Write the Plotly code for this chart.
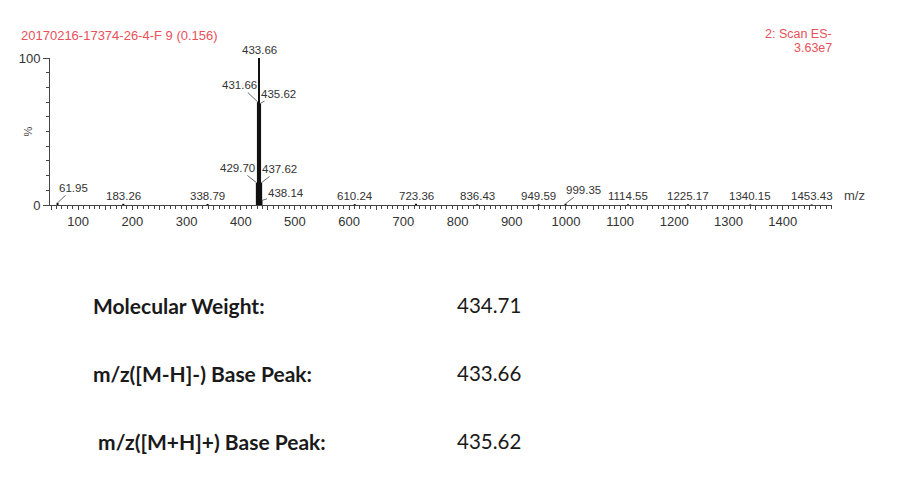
import plotly.graph_objects as go

# ---- data ----
peak_mz = [61.95, 183.26, 338.79, 429.70, 431.66, 433.66, 435.62, 437.62, 438.14,
           610.24, 723.36, 836.43, 949.59, 999.35, 1114.55, 1225.17, 1340.15, 1453.43]
peak_int = [1.5, 0.8, 0.7, 15, 70, 100, 69, 15, 3,
            0.6, 0.8, 0.5, 0.5, 0.9, 0.5, 0.5, 0.4, 0.4]
x_tick_vals = list(range(50, 1500, 50))
x_tick_text = [str(v) if v % 100 == 0 else "" for v in x_tick_vals]
title_left = "20170216-17374-26-4-F 9 (0.156)"
title_right = ["2: Scan ES-", "3.63e7"]
info_labels = ["Molecular Weight:", "m/z([M-H]-) Base Peak:", " m/z([M+H]+) Base Peak:"]
info_values = ["434.71", "433.66", "435.62"]

# ---- label placement (pixels): (ax, ay) for leader lines, else plain label above ----
leader = {61.95: (16, -15), 429.70: (-19, -15), 431.66: (-18, -17), 435.62: (18, -10),
          437.62: (18, -14), 438.14: (25, -8), 999.35: (18, -14)}

xs, ys = [], []
for m, h in zip(peak_mz, peak_int):
    xs += [m, m, None]
    ys += [0, h, None]

fig = go.Figure()
fig.add_trace(go.Scatter(x=xs, y=ys, mode="lines", line=dict(color="#111", width=2),
                         hoverinfo="skip", showlegend=False, cliponaxis=False))

lab_font = dict(family="Liberation Sans, Arial", size=11.5, color="#333")
for m, h in zip(peak_mz, peak_int):
    txt = f"{m:.2f}"
    if m in leader:
        ax, ay = leader[m]
        fig.add_annotation(x=m, y=h, text=txt, showarrow=True, arrowhead=0, arrowwidth=0.8,
                           arrowcolor="#444", ax=ax, ay=ay, standoff=0, font=lab_font)
    else:
        fig.add_annotation(x=m, y=h, text=txt, showarrow=False, yshift=8, font=lab_font)

red = "#e8505a"
fig.add_annotation(xref="paper", yref="paper", x=-0.04, y=1.0, yshift=32, xanchor="left",
                   text=title_left, showarrow=False,
                   font=dict(family="Liberation Sans, Arial", size=13, color=red))
fig.add_annotation(xref="paper", yref="paper", x=1.0, y=1.0, yshift=33, xshift=2, xanchor="right",
                   text=title_right[0], showarrow=False,
                   font=dict(family="Liberation Sans, Arial", size=12.5, color=red))
fig.add_annotation(xref="paper", yref="paper", x=1.0, y=1.0, yshift=19, xshift=2, xanchor="right",
                   text=title_right[1], showarrow=False,
                   font=dict(family="Liberation Sans, Arial", size=12.5, color=red))
fig.add_annotation(xref="paper", yref="paper", x=1.0, y=0, xshift=10, xanchor="left",
                   text="m/z", showarrow=False,
                   font=dict(family="Liberation Sans, Arial", size=13, color="#444"))
fig.add_annotation(xref="paper", yref="paper", x=0, y=0.5, xshift=-31,
                   text="%", textangle=-90, showarrow=False,
                   font=dict(family="Liberation Sans, Arial", size=11, color="#444"))

info_y = [305, 373, 441]
for lab, val, yp in zip(info_labels, info_values, info_y):
    fig.add_annotation(xref="paper", yref="paper", x=(91 - 50) / 782, y=(492 - 287 - yp) / 147,
                       text=f"<b>{lab}</b>", showarrow=False, xanchor="left", yanchor="middle",
                       font=dict(family="Lato", size=21, color="#1a1a1a"))
    fig.add_annotation(xref="paper", yref="paper", x=(455 - 50) / 782, y=(492 - 287 - yp) / 147,
                       text=val, showarrow=False, xanchor="left", yanchor="middle",
                       font=dict(family="Lato", size=20.5, color="#1a1a1a"))

axis_col = "#444"
fig.update_xaxes(range=[48, 1491], showline=True, linecolor=axis_col, linewidth=1,
                 tickmode="array", tickvals=x_tick_vals, ticktext=x_tick_text,
                 ticks="outside", ticklen=4, tickcolor=axis_col, tickwidth=1,
                 minor=dict(dtick=10, tick0=0, ticks="outside", ticklen=2.5, tickcolor=axis_col),
                 showgrid=False, zeroline=False,
                 tickfont=dict(family="Liberation Sans, Arial", size=13, color="#333"))
fig.update_yaxes(range=[0, 100], showline=True, linecolor=axis_col, linewidth=1,
                 tickmode="array", tickvals=[0, 100], ticktext=["0", "100"],
                 ticks="outside", ticklen=6, tickcolor=axis_col,
                 minor=dict(dtick=10, tick0=0, ticks="outside", ticklen=3, tickcolor=axis_col),
                 showgrid=False, zeroline=False,
                 tickfont=dict(family="Liberation Sans, Arial", size=13, color="#333"))

fig.update_layout(width=899, height=492, margin=dict(l=50, r=67, t=58, b=287),
                  plot_bgcolor="white", paper_bgcolor="white", showlegend=False)

fig.write_html("out.html")
